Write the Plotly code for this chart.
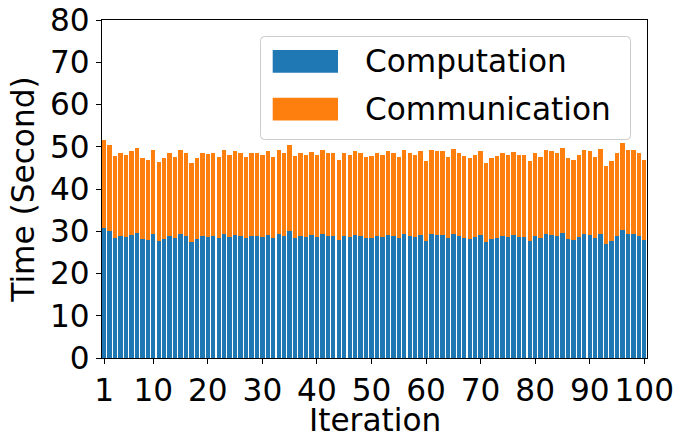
import plotly.graph_objects as go

# Per-iteration timing (seconds)
iterations = list(range(1, 101))

total_time = [
    51.6, 50.4, 47.8, 48.5, 48.1, 49.0, 49.7, 47.4, 46.9, 49.2,
    46.4, 47.4, 48.5, 47.6, 49.2, 48.5, 46.2, 47.4, 48.5, 48.3,
    48.5, 47.6, 49.2, 48.1, 49.0, 48.5, 47.6, 48.5, 48.5, 48.1,
    49.0, 47.6, 49.2, 48.5, 50.4, 47.8, 48.5, 48.1, 48.8, 48.1,
    49.2, 48.5, 48.5, 46.9, 48.5, 48.1, 49.0, 48.5, 47.6, 47.8,
    48.5, 48.1, 49.0, 48.5, 47.6, 49.2, 48.5, 48.1, 49.0, 46.7,
    49.2, 49.0, 49.0, 47.6, 49.5, 48.5, 47.8, 47.4, 48.1, 49.0,
    46.2, 47.4, 47.8, 48.5, 48.1, 48.8, 48.1, 48.1, 46.7, 48.5,
    47.6, 49.2, 49.0, 48.5, 49.7, 47.4, 46.9, 48.1, 49.2, 49.0,
    47.6, 49.5, 45.5, 46.7, 48.5, 50.9, 49.2, 49.2, 48.5, 46.9,
]

computation = [
    30.8, 30.1, 28.4, 28.9, 28.7, 29.2, 29.6, 28.2, 28.0, 29.4,
    27.7, 28.2, 28.9, 28.4, 29.4, 28.9, 27.5, 28.2, 28.9, 28.7,
    28.9, 28.4, 29.4, 28.7, 29.2, 28.9, 28.4, 28.9, 28.9, 28.7,
    29.2, 28.4, 29.4, 28.9, 30.1, 28.4, 28.9, 28.7, 29.2, 28.7,
    29.4, 28.9, 28.9, 28.0, 28.9, 28.7, 29.2, 28.9, 28.4, 28.4,
    28.9, 28.7, 29.2, 28.9, 28.4, 29.4, 28.9, 28.7, 29.2, 27.7,
    29.4, 29.2, 29.2, 28.4, 29.4, 28.9, 28.4, 28.2, 28.7, 29.2,
    27.5, 28.2, 28.4, 28.9, 28.7, 29.2, 28.7, 28.7, 27.7, 28.9,
    28.4, 29.4, 29.2, 28.9, 29.6, 28.2, 28.0, 28.7, 29.4, 29.2,
    28.4, 29.4, 27.0, 27.7, 28.9, 30.3, 29.4, 29.4, 28.9, 28.0,
]

communication = [round(t - c, 2) for t, c in zip(total_time, computation)]

x_ticks = [1, 10, 20, 30, 40, 50, 60, 70, 80, 90, 100]
y_ticks = [0, 10, 20, 30, 40, 50, 60, 70, 80]

series_names = ["Computation", "Communication"]
series_colors = ["#1f77b4", "#ff7f0e"]

FONT = "DejaVu Sans"
FS = 31.2

W, H = 678, 440
ML, MR, MT, MB = 102, 31, 20, 82
PW, PH = W - ML - MR, H - MT - MB


def px_x(px):
    return (px - ML) / PW


def px_y(py):
    return (H - MB - py) / PH


fig = go.Figure()
for name, vals, col in zip(series_names, [computation, communication], series_colors):
    fig.add_trace(go.Bar(
        x=iterations, y=vals, name=name, marker_color=col,
        marker_line_width=0, showlegend=False,
    ))

# Legend frame (rounded box) drawn as a path in pixel-derived paper coords
x0, x1, y0, y1, r = 260.5, 630.5, 36.5, 139.5, 4
path = (
    f"M {px_x(x0 + r)} {px_y(y0)} L {px_x(x1 - r)} {px_y(y0)} "
    f"Q {px_x(x1)} {px_y(y0)} {px_x(x1)} {px_y(y0 + r)} "
    f"L {px_x(x1)} {px_y(y1 - r)} Q {px_x(x1)} {px_y(y1)} {px_x(x1 - r)} {px_y(y1)} "
    f"L {px_x(x0 + r)} {px_y(y1)} Q {px_x(x0)} {px_y(y1)} {px_x(x0)} {px_y(y1 - r)} "
    f"L {px_x(x0)} {px_y(y0 + r)} Q {px_x(x0)} {px_y(y0)} {px_x(x0 + r)} {px_y(y0)} Z"
)
shapes = [dict(type="path", path=path, xref="paper", yref="paper",
               fillcolor="rgba(255,255,255,0.8)", line=dict(color="#cccccc", width=1))]
annotations = []
for i, (name, col) in enumerate(zip(series_names, series_colors)):
    top = 50 + i * 47.7
    shapes.append(dict(type="rect", xref="paper", yref="paper",
                       x0=px_x(272.7), x1=px_x(338), y0=px_y(top), y1=px_y(top + 22.7),
                       fillcolor=col, line=dict(width=0)))
    annotations.append(dict(text=name, xref="paper", yref="paper",
                            x=px_x(363), y=px_y(top + 11.3), xanchor="left", yanchor="middle",
                            showarrow=False, font=dict(family=FONT, size=FS, color="black")))

# x-axis title placed below the tick labels
annotations.append(dict(text="Iteration", xref="paper", yref="paper",
                        x=0.5, y=px_y(420), xanchor="center", yanchor="middle",
                        showarrow=False, font=dict(family=FONT, size=FS, color="black")))

fig.update_layout(
    width=W, height=H,
    margin=dict(l=ML, r=MR, t=MT, b=MB, autoexpand=False),
    barmode="stack", bargap=0.2,
    plot_bgcolor="white", paper_bgcolor="white",
    font=dict(family=FONT, size=FS, color="black"),
    shapes=shapes, annotations=annotations,
    xaxis=dict(
        range=[0.6, 100.5], tickmode="array", tickvals=x_ticks,
        ticks="outside", ticklen=5, tickwidth=1.1, tickcolor="black",
        showline=True, linecolor="black", linewidth=1.1, mirror=True,
        showgrid=False, zeroline=False,
        tickfont=dict(family=FONT, size=FS),
    ),
    yaxis=dict(
        range=[0, 80], tickmode="array", tickvals=y_ticks,
        ticks="outside", ticklen=5, tickwidth=1.1, tickcolor="black",
        showline=True, linecolor="black", linewidth=1.1, mirror=True,
        showgrid=False, zeroline=False,
        title=dict(text="Time (Second)", standoff=6, font=dict(family=FONT, size=FS)),
        tickfont=dict(family=FONT, size=FS),
    ),
)

fig.write_html("out.html")
